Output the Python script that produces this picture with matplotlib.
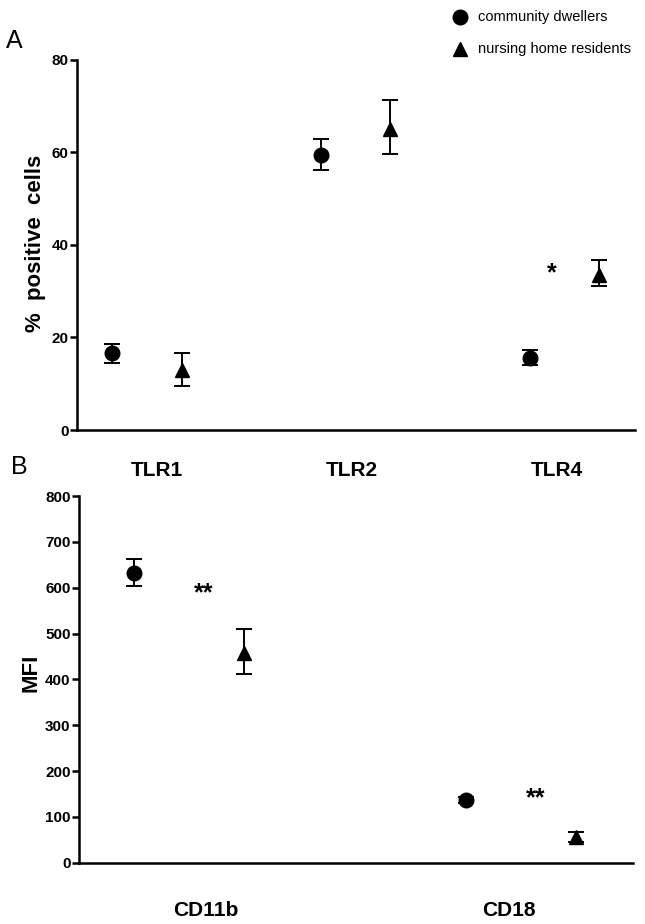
import numpy as np
import matplotlib
matplotlib.use('Agg')
import matplotlib.pyplot as plt
from matplotlib.lines import Line2D

plt.rcParams['font.family'] = ['Liberation Sans', 'DejaVu Sans']

# panel A: % positive cells
tlr_labels = ['TLR1', 'TLR2', 'TLR4']
tlr_comm = [16.6, 59.4, 15.6]
tlr_comm_lo = [14.5, 56.1, 14.0]
tlr_comm_hi = [18.6, 62.8, 17.3]
tlr_nurs = [13.0, 65.1, 33.5]
tlr_nurs_lo = [9.5, 59.7, 31.1]
tlr_nurs_hi = [16.7, 71.3, 36.6]
tlr_stars = ['', '', '*']
tlr_star_y = [0, 0, 33.9]

# panel B: MFI
cd_labels = ['CD11b', 'CD18']
cd_comm = [633, 137]
cd_comm_lo = [604, 130]
cd_comm_hi = [663, 144]
cd_nurs = [458, 56]
cd_nurs_lo = [412, 46]
cd_nurs_hi = [510, 66]
cd_stars = ['**', '**']
cd_star_y = [588, 141]

W, H = 645, 924
fig = plt.figure(figsize=(W/100, H/100), dpi=100)

def px(x0, y0, x1, y1):
    # pixel box -> figure fraction rect
    return [x0/W, 1 - y1/H, (x1-x0)/W, (y1-y0)/H]

axA = fig.add_axes(px(77, 59.5, 635, 430))
axB = fig.add_axes(px(79, 496, 633, 862.7))

off = 0.166
ms = 10.5

def draw(ax, comm, clo, chi, nurs, nlo, nhi):
    x = np.arange(len(comm))
    comm, clo, chi = map(np.array, (comm, clo, chi))
    nurs, nlo, nhi = map(np.array, (nurs, nlo, nhi))
    ax.errorbar(x - off, comm, yerr=[comm - clo, chi - comm], fmt='o', color='black',
                ms=ms, capsize=6, elinewidth=1.4, capthick=1.4)
    ax.errorbar(x + off, nurs, yerr=[nurs - nlo, nhi - nurs], fmt='^', color='black',
                ms=ms, capsize=6, elinewidth=1.4, capthick=1.4)
    for s in ['top', 'right']:
        ax.spines[s].set_visible(False)
    for s in ['left', 'bottom']:
        ax.spines[s].set_linewidth(1.8)
    ax.set_xticks([])
    ax.tick_params(axis='y', width=1.8, length=5, labelsize=11, pad=1)

draw(axA, tlr_comm, tlr_comm_lo, tlr_comm_hi, tlr_nurs, tlr_nurs_lo, tlr_nurs_hi)
axA.set_ylim(0, 80)
axA.set_yticks([0, 20, 40, 60, 80])
axA.set_xlim(-0.335, 2.338)
for t in axA.get_yticklabels():
    t.set_fontweight('bold')
for i, s in enumerate(tlr_stars):
    if s:
        axA.text(i - 0.06, tlr_star_y[i], s, ha='center', va='center', fontsize=18, fontweight='bold')

draw(axB, cd_comm, cd_comm_lo, cd_comm_hi, cd_nurs, cd_nurs_lo, cd_nurs_hi)
axB.set_ylim(0, 800)
axB.set_yticks(range(0, 801, 100))
axB.set_xlim(-0.331, 1.337)
for t in axB.get_yticklabels():
    t.set_fontweight('bold')
for i, s in enumerate(cd_stars):
    axB.text(i + 0.045, cd_star_y[i], s, ha='center', va='center', fontsize=18, fontweight='bold')

# category labels
for lab, xp in zip(tlr_labels, [157, 352, 557]):
    fig.text(xp/W, 1 - 470/H, lab, ha='center', va='center', fontsize=15, fontweight='bold')
for lab, xp in zip(cd_labels, [206, 509]):
    fig.text(xp/W, 1 - 910/H, lab, ha='center', va='center', fontsize=15, fontweight='bold')

# axis titles
fig.text(36/W, 1 - 243/H, '%  positive  cells', rotation=90, ha='center', va='center',
         fontsize=16, fontweight='bold')
fig.text(31.5/W, 1 - 673/H, 'MFI', rotation=90, ha='center', va='center',
         fontsize=16, fontweight='bold')

# panel letters
fig.text(14/W, 1 - 41/H, 'A', ha='center', va='center', fontsize=18)
fig.text(19/W, 1 - 467.5/H, 'B', ha='center', va='center', fontsize=18)

# legend
fig.add_artist(Line2D([460/W], [1 - 17/H], marker='o', color='black', ms=ms, transform=fig.transFigure))
fig.add_artist(Line2D([460/W], [1 - 49/H], marker='^', color='black', ms=ms, transform=fig.transFigure))
fig.text(478/W, 1 - 17/H, 'community dwellers', ha='left', va='center', fontsize=10.5)
fig.text(478/W, 1 - 49/H, 'nursing home residents', ha='left', va='center', fontsize=10.5)

fig.savefig('out.png', dpi=100)
